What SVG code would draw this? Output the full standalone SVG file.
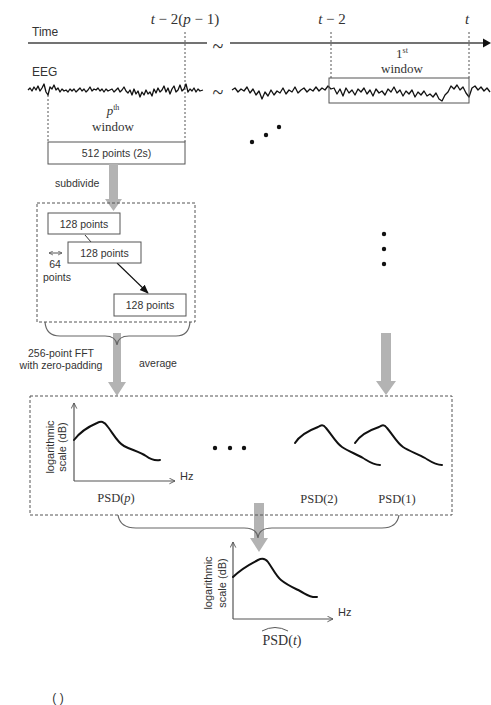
<svg xmlns="http://www.w3.org/2000/svg" width="491" height="705" viewBox="0 0 491 705">
<defs>
<style>
.sans{font-family:"Liberation Sans",Arial,sans-serif;fill:#333}
.serif{font-family:"Liberation Serif","Times New Roman",serif;fill:#333}
.box{fill:#fff;stroke:#555;stroke-width:1}
.dash{fill:none;stroke:#555;stroke-width:1;stroke-dasharray:3 2}
.vdash{fill:none;stroke:#555;stroke-width:1;stroke-dasharray:2 2}
.axis{fill:none;stroke:#555;stroke-width:1.2}
.curve{fill:none;stroke:#111;stroke-width:2;stroke-linecap:round;stroke-linejoin:round}
.wave{fill:none;stroke:#111;stroke-width:1.3;stroke-linejoin:round}
.garrow{fill:#b3b3b3}
.brace{fill:none;stroke:#666;stroke-width:1.2}
</style>
<marker id="open" viewBox="0 0 10 10" refX="9" refY="5" markerWidth="7" markerHeight="7" orient="auto" markerUnits="userSpaceOnUse">
<path d="M1,1 L9,5 L1,9" fill="none" stroke="#555" stroke-width="1.3"/>
</marker>
<marker id="fill" viewBox="0 0 10 10" refX="9" refY="5" markerWidth="9" markerHeight="9" orient="auto" markerUnits="userSpaceOnUse">
<path d="M0,1 L10,5 L0,9 Z" fill="#111"/>
</marker>
<marker id="small" viewBox="0 0 10 10" refX="9" refY="5" markerWidth="5" markerHeight="5" orient="auto-start-reverse" markerUnits="userSpaceOnUse">
<path d="M1,1 L9,5 L1,9" fill="none" stroke="#555" stroke-width="1.5"/>
</marker>
</defs>
<rect width="491" height="705" fill="#fff"/>

<g id="time-axis">
<text class="sans" x="32" y="36" font-size="12">Time</text>
<line x1="28" y1="43" x2="207" y2="43" stroke="#444" stroke-width="1.3"/>
<text class="serif" x="218" y="53" font-size="20" text-anchor="middle">~</text>
<line x1="230" y1="43" x2="484" y2="43" stroke="#444" stroke-width="1.3"/>
<path d="M483,38.5 L491,43 L483,47.5 Z" fill="#111"/>
<text class="serif" x="185" y="24" font-size="15" text-anchor="middle"><tspan font-style="italic">t</tspan> − 2(<tspan font-style="italic">p</tspan> − 1)</text>
<text class="serif" x="332" y="24" font-size="15" text-anchor="middle"><tspan font-style="italic">t</tspan> − 2</text>
<text class="serif" x="467" y="24" font-size="15" text-anchor="middle" font-style="italic">t</text>
<line class="vdash" x1="185" y1="32" x2="185" y2="142"/>
<line class="vdash" x1="48" y1="95" x2="48" y2="142"/>
<line class="vdash" x1="331" y1="32" x2="331" y2="78"/>
<line class="vdash" x1="469" y1="32" x2="469" y2="78"/>
</g>

<g id="eeg">
<text class="sans" x="32" y="76" font-size="12">EEG</text>
<polyline class="wave" points="28,90 30,88 32,91 34,87 36,90 38,86 40,91 42,88 44,84 46,92 48,95 50,87 52,89 54,85 56,90 58,88 60,92 62,89 64,91 66,90 68,92 70,89 72,91 74,89 76,92 78,90 80,88 82,91 84,89 86,92 88,90 90,87 92,91 94,89 96,90 98,88 100,91 102,89 104,92 106,89 108,91 110,90 112,89 114,92 116,90 118,88 120,92 122,90 124,87 126,91 128,93 130,90 132,95 134,89 136,94 138,91 140,97 142,92 144,95 146,90 148,94 150,92 152,96 154,89 156,93 158,88 160,92 162,90 164,86 166,92 168,88 170,94 172,89 174,86 176,92 178,90 180,85 182,91 184,89 186,84 188,92 190,89 192,91 194,88 196,92 198,89 200,91 203,90"/>
<text class="serif" x="218" y="99" font-size="20" text-anchor="middle">~</text>
<polyline class="wave" points="232,90 235,88 238,92 241,89 244,91 247,87 250,93 253,89 256,95 259,91 262,99 265,92 268,96 271,90 274,95 277,91 280,93 283,88 286,94 289,90 292,92 295,87 298,93 301,90 304,88 307,92 310,89 313,91 316,87 319,91 322,88 325,90 328,86 331,89 334,88 337,94 340,89 343,96 346,88 349,93 352,90 355,95 358,89 361,92 364,88 367,94 370,90 373,96 376,89 379,93 382,91 385,95 388,89 391,92 394,87 397,93 400,90 403,96 406,91 409,94 412,90 415,97 418,92 421,95 424,91 427,96 430,94 433,97 436,93 439,99 442,101 445,95 448,92 451,86 454,89 457,85 460,90 463,87 466,93 469,97 472,88 475,86 478,90 481,87 484,91 487,88 490,92"/>
</g>

<g id="window-1">
<rect x="329" y="78" width="140" height="25" fill="none" stroke="#555" stroke-width="1"/>
<text class="serif" x="402" y="58" font-size="13" text-anchor="middle">1<tspan font-size="8" dy="-5">st</tspan></text>
<text class="serif" x="402" y="73" font-size="13" text-anchor="middle">window</text>
</g>

<g id="window-p">
<text class="serif" x="113" y="115" font-size="13" text-anchor="middle"><tspan font-style="italic">p</tspan><tspan font-size="8" dy="-5">th</tspan></text>
<text class="serif" x="113" y="131" font-size="13" text-anchor="middle">window</text>
</g>

<g id="dots-top">
<circle cx="252" cy="142" r="2.2" fill="#111"/>
<circle cx="266" cy="135" r="2.2" fill="#111"/>
<circle cx="279" cy="127" r="2.2" fill="#111"/>
</g>

<g id="box-512">
<rect class="box" x="48" y="142" width="137" height="22"/>
<text class="sans" x="116.5" y="157" font-size="10.5" text-anchor="middle">512 points (2s)</text>
</g>

<g id="connectors">
<path class="garrow" d="M109,164 H118 V199 H122 L113.5,211 L105,199 H109 Z"/>
<text class="sans" x="55" y="187" font-size="10.5">subdivide</text>
<line x1="85" y1="235" x2="91" y2="242" stroke="#333" stroke-width="1"/>
<line x1="117" y1="263" x2="148" y2="293" stroke="#111" stroke-width="1.1" marker-end="url(#fill)"/>
<line x1="49" y1="253" x2="62" y2="253" stroke="#555" stroke-width="1" marker-start="url(#small)" marker-end="url(#small)"/>
<path class="garrow" d="M113,333 H121 V382 H126 L117,396 L108,382 H113 Z"/>
<path class="garrow" d="M381,333 H391 V381 H396 L386,395 L376,381 H381 Z"/>
<path class="garrow" d="M254,503 H264 V538 H268 L259,552 L250,538 H254 Z"/>
<path class="brace" d="M45,322 Q46,336 60,336 L105,336 Q116,336 117,345 Q118,336 129,336 L176,336 Q189,336 190,322"/>
<path class="brace" d="M118,515 Q120,528 136,528 L244,528 Q257,528 258,538 Q259,528 272,528 L382,528 Q397,528 399,515"/>
</g>

<g id="subdivide-box">
<rect class="dash" x="37" y="203" width="158" height="119"/>
</g>
<g id="seg-1">
<rect class="box" x="48" y="213" width="72" height="21"/>
<text class="sans" x="84" y="227.5" font-size="10.5" text-anchor="middle">128 points</text>
</g>
<g id="seg-2">
<rect class="box" x="68" y="242" width="73" height="21"/>
<text class="sans" x="104.5" y="256.5" font-size="10.5" text-anchor="middle">128 points</text>
</g>
<g id="seg-3">
<rect class="box" x="114" y="294" width="72" height="22"/>
<text class="sans" x="150" y="309" font-size="10.5" text-anchor="middle">128 points</text>
</g>
<g id="overlap-label">
<text class="sans" x="55" y="268" font-size="10.5" text-anchor="middle">64</text>
<text class="sans" x="57" y="281" font-size="10.5" text-anchor="middle">points</text>
</g>

<g id="fft-label">
<text class="sans" x="61" y="357" font-size="10.5" text-anchor="middle">256-point FFT</text>
<text class="sans" x="61" y="369" font-size="10.5" text-anchor="middle">with zero-padding</text>
<text class="sans" x="158" y="367" font-size="10.5" text-anchor="middle">average</text>
</g>

<g id="dots-right">
<circle cx="384" cy="234" r="2.2" fill="#111"/>
<circle cx="384" cy="249" r="2.2" fill="#111"/>
<circle cx="384" cy="264" r="2.2" fill="#111"/>
</g>

<g id="psd-box">
<rect class="dash" x="30" y="396" width="422" height="119"/>
</g>

<g id="psd-p">
<line class="axis" x1="74" y1="481" x2="74" y2="403" marker-end="url(#open)"/>
<line class="axis" x1="74" y1="481" x2="175" y2="481" marker-end="url(#open)"/>
<path class="curve" d="M74,440 C80,432 90,426 97,423 C101,421 104,421 108,427 C114,435 118,443 124,446 C132,450 140,452 146,456 C150,459 154,461 160,460"/>
<text class="sans" x="180" y="480" font-size="11">Hz</text>
<text class="sans" transform="translate(54,447) rotate(-90)" font-size="11" text-anchor="middle">logarithmic</text>
<text class="sans" transform="translate(66,447) rotate(-90)" font-size="11" text-anchor="middle">scale (dB)</text>
<text class="serif" x="116" y="502" font-size="12.5" text-anchor="middle">PSD(<tspan font-style="italic">p</tspan>)</text>
</g>

<g id="dots-mid">
<circle cx="215" cy="448" r="2.2" fill="#111"/>
<circle cx="230" cy="448" r="2.2" fill="#111"/>
<circle cx="244" cy="448" r="2.2" fill="#111"/>
</g>

<g id="psd-2">
<path class="curve" d="M295,443 C300,435 310,430 318,427 C321,425 323,424 326,428 C332,435 336,443 342,447 C348,451 356,454 363,458 C368,461 373,465 380,465"/>
<text class="serif" x="319" y="503" font-size="12.5" text-anchor="middle">PSD(2)</text>
</g>
<g id="psd-1">
<path class="curve" d="M355,443 C360,435 370,430 379,427 C382,425 384,424 387,428 C393,435 397,443 403,447 C409,451 418,454 425,458 C430,461 435,465 442,465"/>
<text class="serif" x="397" y="503" font-size="12.5" text-anchor="middle">PSD(1)</text>
</g>

<g id="psd-t">
<line class="axis" x1="233" y1="619" x2="233" y2="542" marker-end="url(#open)"/>
<line class="axis" x1="233" y1="619" x2="333" y2="619" marker-end="url(#open)"/>
<path class="curve" d="M233,577 C240,570 250,564 258,560 C262,558 265,558 268,562 C273,569 276,576 281,580 C287,585 294,588 300,591 C306,594 310,598 317,597"/>
<text class="sans" x="338" y="616" font-size="11">Hz</text>
<text class="sans" transform="translate(212,583) rotate(-90)" font-size="11" text-anchor="middle">logarithmic</text>
<text class="sans" transform="translate(226,583) rotate(-90)" font-size="11" text-anchor="middle">scale (dB)</text>
<text class="serif" x="282" y="645" font-size="14" text-anchor="middle">PSD(<tspan font-style="italic">t</tspan>)</text>
<path d="M262,631 Q275,624 288,631" fill="none" stroke="#444" stroke-width="0.9"/>
</g>

<g id="caption">
<text class="sans" x="58" y="702" font-size="12" text-anchor="middle" fill="#777">( )</text>
</g>
</svg>
